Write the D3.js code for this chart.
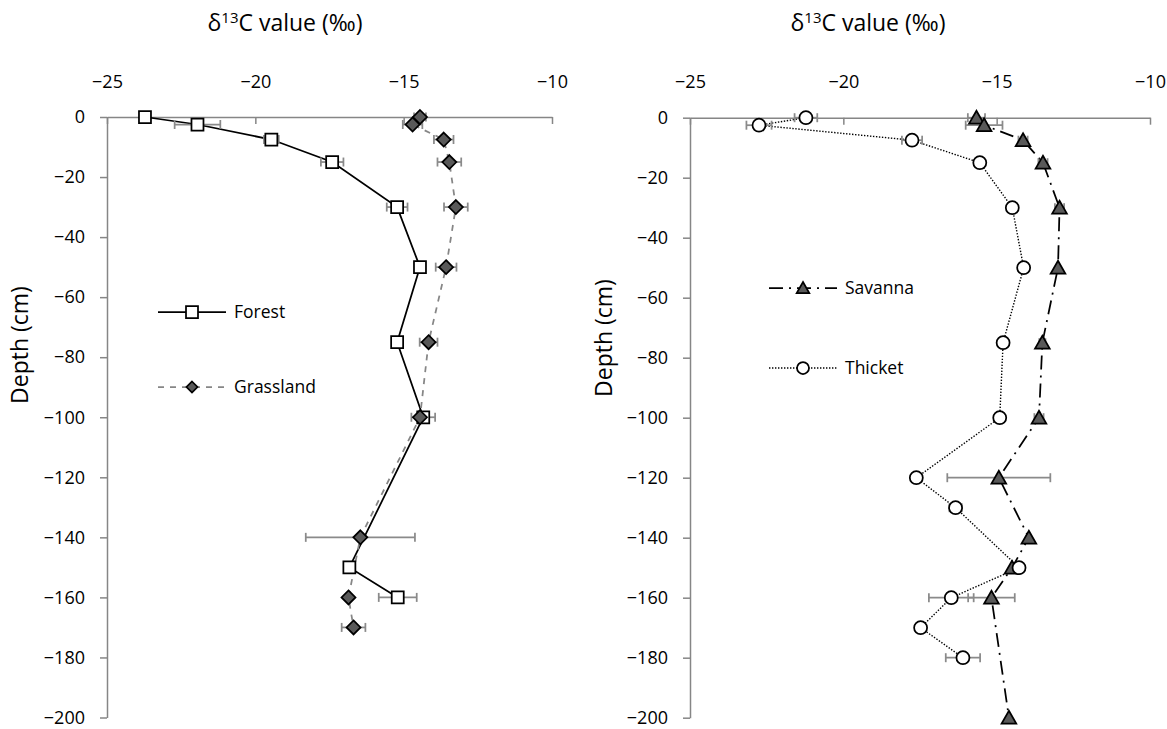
<!DOCTYPE html>
<html>
<head>
<meta charset="utf-8">
<script src="https://cdn.jsdelivr.net/npm/d3@7"></script>
<style>
  body { margin: 0; background: #fff; }
  svg { display: block; }
  text { font-family: "Open Sans", "Noto Sans", sans-serif; fill: #000; }
</style>
</head>
<body>
<svg id="chart" width="1167" height="729"></svg>
<script>
// δ13C depth profiles under four vegetation types
const xTicks = [-25, -20, -15, -10];
const yTicks = [0, -20, -40, -60, -80, -100, -120, -140, -160, -180, -200];

const forestDepth = [0, -2.5, -7.5, -15, -30, -50, -75, -100, -150, -160];
const forestD13C  = [-23.72, -21.95, -19.46, -17.41, -15.22, -14.45, -15.22, -14.34, -16.83, -15.2];
const forestErr   = [0, 0.77, 0.25, 0.38, 0.35, 0, 0.17, 0.4, 0, 0.64];

const grassDepth = [0, -2.5, -7.5, -15, -30, -50, -75, -100, -140, -160, -170];
const grassD13C  = [-14.45, -14.7, -13.65, -13.46, -13.24, -13.57, -14.16, -14.45, -16.46, -16.86, -16.69];
const grassErr   = [0.2, 0.33, 0.33, 0.4, 0.4, 0.35, 0.3, 0, 1.84, 0, 0.4];

const savannaDepth = [0, -2.5, -7.5, -15, -30, -50, -75, -100, -120, -140, -150, -160, -200];
const savannaD13C  = [-15.66, -15.41, -14.14, -13.49, -12.95, -13.0, -13.51, -13.62, -14.93, -13.95, -14.5, -15.17, -14.6];
const savannaErr   = [0.28, 0.6, 0.15, 0.15, 0.15, 0, 0.1, 0.15, 1.68, 0, 0, 0.76, 0];

const thicketDepth = [0, -2.5, -7.5, -15, -30, -50, -75, -100, -120, -130, -150, -160, -170, -180];
const thicketD13C  = [-21.22, -22.75, -17.76, -15.55, -14.49, -14.12, -14.79, -14.9, -17.62, -16.34, -14.27, -16.48, -17.48, -16.1];
const thicketErr   = [0.37, 0.41, 0.33, 0, 0, 0, 0, 0, 0, 0.2, 0, 0.73, 0, 0.56];

const AXIS = "#868686";
const ERR = "#8a8a8a";
const DARK = "#595959";

const svg = d3.select("#chart");

// marker shapes
const shapes = {
  square: r => `M${-r},${-r}H${r}V${r}H${-r}Z`,
  diamond: r => `M0,${-r}L${r},0L0,${r}L${-r},0Z`,
  triangle: r => `M0,${-r}L${r * 1.05},${r * 0.85}L${-r * 1.05},${r * 0.85}Z`,
  circle: r => `M${r},0A${r},${r} 0 1,1 ${-r},0A${r},${r} 0 1,1 ${r},0Z`
};

function series(name, depth, vals, err, style) {
  return { name, rows: depth.map((d, i) => ({ d, v: vals[i], e: err[i] })), style };
}

function drawPanel(cfg) {
  const x = d3.scaleLinear().domain([-25, -10]).range([cfg.x0, cfg.x1]);
  const y = d3.scaleLinear().domain([0, -200]).range([cfg.y0, cfg.y1]);
  const g = svg.append("g");

  // value axis along the top
  const gx = g.append("g")
    .attr("transform", `translate(0,${y(0)})`)
    .call(d3.axisTop(x).tickValues(xTicks).tickSize(-7).tickSizeOuter(0).tickPadding(29.5));
  // depth axis on the left
  const gy = g.append("g")
    .attr("transform", `translate(${x(-25)},0)`)
    .call(d3.axisLeft(y).tickValues(yTicks).tickSize(7).tickSizeOuter(0).tickPadding(15));

  [gx, gy].forEach(a => {
    a.select(".domain").attr("stroke", AXIS).attr("stroke-width", 1.5);
    a.selectAll(".tick line").attr("stroke", AXIS).attr("stroke-width", 1.5);
    a.selectAll(".tick text").attr("font-size", 18).attr("fill", "#000")
      .attr("font-family", "Open Sans, Noto Sans, sans-serif");
  });
  gx.selectAll(".tick text").attr("dy", "0");

  // axis titles
  const t = g.append("text").attr("x", cfg.titleX).attr("y", cfg.titleY)
    .attr("text-anchor", "middle").attr("font-size", 23);
  t.append("tspan").text("δ");
  t.append("tspan").text("13").attr("font-size", 15).attr("dy", -8);
  t.append("tspan").text("C value (‰)").attr("dy", 8);

  g.append("text")
    .attr("transform", `translate(${cfg.depthX},${cfg.depthY}) rotate(-90)`)
    .attr("text-anchor", "middle").attr("font-size", 23).text("Depth (cm)");

  const line = d3.line().x(p => x(p.v)).y(p => y(p.d));

  // connecting lines
  cfg.series.forEach(s => {
    g.append("path").datum(s.rows).attr("d", line)
      .attr("fill", "none").attr("stroke", s.style.stroke)
      .attr("stroke-width", s.style.width)
      .attr("stroke-dasharray", s.style.dash || null);
  });

  cfg.series.forEach(s => {
    // horizontal error bars
    const eb = g.append("g").attr("stroke", ERR).attr("stroke-width", 1.75).attr("fill", "none");
    s.rows.filter(p => p.e > 0).forEach(p => {
      const y0 = y(p.d), xl = x(p.v - p.e), xr = x(p.v + p.e);
      eb.append("line").attr("x1", xl).attr("x2", xr).attr("y1", y0).attr("y2", y0);
      eb.append("line").attr("x1", xl).attr("x2", xl).attr("y1", y0 - 4.5).attr("y2", y0 + 4.5);
      eb.append("line").attr("x1", xr).attr("x2", xr).attr("y1", y0 - 4.5).attr("y2", y0 + 4.5);
    });
    // markers
    g.append("g").selectAll("path").data(s.rows).join("path")
      .attr("transform", p => `translate(${x(p.v)},${y(p.d)})`)
      .attr("d", shapes[s.style.shape](s.style.r))
      .attr("fill", s.style.fill).attr("stroke", "#000").attr("stroke-width", 1.75);
  });

  // legend
  cfg.series.forEach((s, i) => {
    const ly = cfg.legendY[i];
    const lg = g.append("g");
    lg.append("line").attr("x1", cfg.legendX).attr("x2", cfg.legendX + cfg.legendLen)
      .attr("y1", ly).attr("y2", ly)
      .attr("stroke", s.style.stroke).attr("stroke-width", s.style.width)
      .attr("stroke-dasharray", s.style.dash || null);
    lg.append("path").attr("transform", `translate(${cfg.legendX + cfg.legendLen / 2},${ly})`)
      .attr("d", shapes[s.style.shape](s.style.legendR))
      .attr("fill", s.style.fill).attr("stroke", "#000").attr("stroke-width", 1.75);
    lg.append("text").attr("x", cfg.legendX + cfg.legendLen + 8).attr("y", ly)
      .attr("dy", "0.35em").attr("font-size", 17.5).text(s.name);
  });
}

drawPanel({
  x0: 107, x1: 552, y0: 117, y1: 717.5,
  titleX: 285, titleY: 31, depthX: 28, depthY: 345,
  legendX: 158, legendLen: 68, legendY: [312, 387],
  series: [
    series("Forest", forestDepth, forestD13C, forestErr,
      { stroke: "#000", width: 1.75, shape: "square", r: 6, legendR: 6, fill: "#fff" }),
    series("Grassland", grassDepth, grassD13C, grassErr,
      { stroke: AXIS, width: 1.75, dash: "6,6", shape: "diamond", r: 7, legendR: 5.5, fill: DARK })
  ]
});

drawPanel({
  x0: 690, x1: 1150, y0: 117.7, y1: 717.7,
  titleX: 868, titleY: 31, depthX: 612, depthY: 338,
  legendX: 769, legendLen: 68, legendY: [288, 368],
  series: [
    series("Savanna", savannaDepth, savannaD13C, savannaErr,
      { stroke: "#000", width: 1.75, dash: "14,6,2,6", shape: "triangle", r: 7, legendR: 6, fill: DARK }),
    series("Thicket", thicketDepth, thicketD13C, thicketErr,
      { stroke: "#000", width: 1.4, dash: "1.4,1.6", shape: "circle", r: 6.5, legendR: 6, fill: "#fff" })
  ]
});
</script>
</body>
</html>
